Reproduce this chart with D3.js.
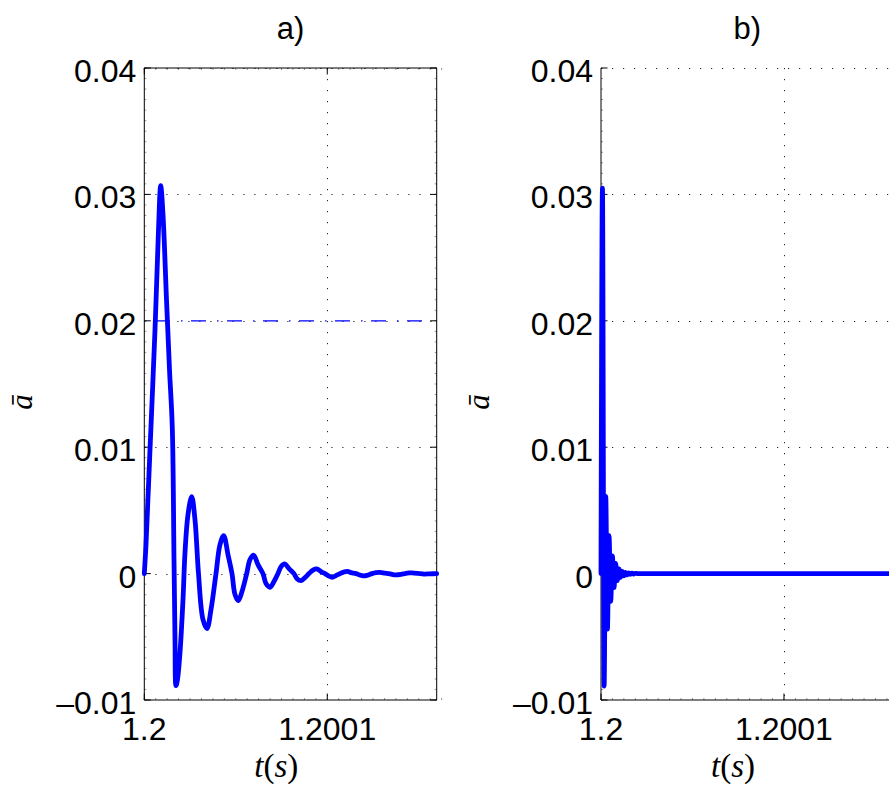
<!DOCTYPE html>
<html><head><meta charset="utf-8">
<script src="https://cdn.jsdelivr.net/npm/d3@7"></script>
<style>body{margin:0;background:#fff} svg{display:block}</style>
</head><body><svg id="c" width="889" height="788"></svg>
<script>
// time offsets from t = 1.2 s, in microseconds
const tA = [0,0.93,3.11,5.85,7.76,8.96,10.22,12.13,13.77,15.30,16.23,16.78,17.32,18.14,19.51,21.15,22.24,23.88,25.90,27.70,29.62,32.08,34.27,36.45,39.18,41.37,43.39,45.74,47.93,49.57,51.37,53.39,55.96,57.76,59.78,62.13,64.86,66.50,68.69,70.87,73.06,74.70,76.72,79.07,81.81,83.44,85.63,87.82,90.00,92.19,94.21,96.56,98.75,100.93,102.73,104.75,106.94,109.13,110.93,112.95,115.69,117.87,119.67,122.24,124.43,126.61,128.80,131.53,133.72,135.90,137.54,140.28,142.46,144.65,146.29,149.57,152.85,156.13,159.78];
const aA = [0,0.00229,0.00981,0.01930,0.02721,0.03070,0.02840,0.02168,0.01614,0.01155,0.00111,-0.00522,-0.00886,-0.00839,-0.00625,-0.00206,0.00166,0.00467,0.00609,0.00427,0,-0.00364,-0.00435,-0.00285,0,0.00229,0.00301,0.00150,0,-0.00166,-0.00214,-0.00142,0,0.00111,0.00145,0.00071,0,-0.00079,-0.00108,-0.00063,0,0.00055,0.00077,0.00040,0,-0.00040,-0.00055,-0.00032,0,0.00028,0.00037,0.00016,0,-0.00020,-0.00029,-0.00016,0,0.00013,0.00018,0.00008,0,-0.00012,-0.00018,-0.00012,0,0.00008,0.00010,0.00004,0,-0.00008,-0.00010,-0.00006,0,0.00005,0.00006,0.00002,-0.00004,-0.00002,0];
const tB = [0,0.8,1.7,2.6,3.5,4.4,5.3,6.2,7.1,8.0,8.9,9.8,10.7,11.6,12.5,13.4,14.3,15.2,16.1,17.0,17.9,18.8,20.0,60,100,160];
const aB = [0,0.0305,-0.0089,0.0061,-0.0044,0.0030,-0.0022,0.0014,-0.0011,0.0008,-0.00055,0.00037,-0.00029,0.00018,-0.00018,0.0001,-0.0001,0.00006,-0.00005,0.00004,-0.00003,0.00002,0,0,0,0];
const xDomain = [0, 159.8];
const xTicks = [0, 100];
const xTickLabels = ["1.2", "1.2001"];
const yDomain = [-0.01, 0.04];
const yTicks = [-0.01, 0, 0.01, 0.02, 0.03, 0.04];
const yTickLabels = ["\u20130.01", "0", "0.01", "0.02", "0.03", "0.04"];
const refLevel = 0.02;
const refSpan = [1.0, 152.3];
const titles = ["a)", "b)"];

const svg = d3.select("#c");
const pTop = 68, pBottom = 700, W = 292.4;
const panels = [
  {left: 144.3, t: tA, a: aA, title: titles[0], box: true, ref: true, curve: d3.curveCatmullRom.alpha(0.5)},
  {left: 601, t: tB, a: aB, title: titles[1], box: false, ref: false, curve: d3.curveMonotoneX}
];
const y = d3.scaleLinear().domain(yDomain).range([pBottom, pTop]);

panels.forEach(p => {
  const x = d3.scaleLinear().domain(xDomain).range([p.left, p.left + W]);
  const g = svg.append("g");
  // grid
  yTicks.filter(v => v > yDomain[0]).forEach(v => {
    g.append("line").attr("x1", p.left).attr("x2", p.left + W)
      .attr("y1", Math.round(y(v)) + 0.5).attr("y2", Math.round(y(v)) + 0.5)
      .attr("stroke", "#222").attr("stroke-width", 1).attr("stroke-dasharray", "1.2,9.8");
  });
  xTicks.filter(v => v > xDomain[0]).forEach(v => {
    g.append("line").attr("x1", Math.round(x(v)) + 0.5).attr("x2", Math.round(x(v)) + 0.5)
      .attr("y1", pTop).attr("y2", pBottom)
      .attr("stroke", "#222").attr("stroke-width", 1).attr("stroke-dasharray", "1.2,9.8");
  });
  // minor ticks
  const yMinor = d3.range(0, 61).map(i => yDomain[0] + i * 0.05 / 60);
  yMinor.forEach(v => {
    g.append("line").attr("x1", p.left).attr("x2", p.left + 2).attr("y1", y(v)).attr("y2", y(v))
      .attr("stroke", "#666").attr("stroke-width", 0.7);
    if (p.box) g.append("line").attr("x1", p.left + W - 2).attr("x2", p.left + W).attr("y1", y(v)).attr("y2", y(v))
      .attr("stroke", "#666").attr("stroke-width", 0.7);
  });
  d3.range(0, 27).map(i => i * 6.25).forEach(v => {
    g.append("line").attr("x1", x(v)).attr("x2", x(v)).attr("y1", pBottom).attr("y2", pBottom - 2)
      .attr("stroke", "#666").attr("stroke-width", 0.7);
    if (p.box) g.append("line").attr("x1", x(v)).attr("x2", x(v)).attr("y1", pTop).attr("y2", pTop + 2)
      .attr("stroke", "#666").attr("stroke-width", 0.7);
  });
  // axes lines
  g.append("line").attr("x1", p.left).attr("x2", p.left).attr("y1", pTop).attr("y2", pBottom).attr("stroke", "#000");
  g.append("line").attr("x1", p.left).attr("x2", p.left + W).attr("y1", pBottom).attr("y2", pBottom).attr("stroke", "#000");
  if (p.box) {
    g.append("line").attr("x1", p.left).attr("x2", p.left + W).attr("y1", pTop).attr("y2", pTop).attr("stroke", "#000");
    g.append("line").attr("x1", p.left + W).attr("x2", p.left + W).attr("y1", pTop).attr("y2", pBottom).attr("stroke", "#000");
  }
  // major ticks
  yTicks.forEach(v => {
    g.append("line").attr("x1", p.left).attr("x2", p.left + 6.5).attr("y1", y(v)).attr("y2", y(v)).attr("stroke", "#000");
    if (p.box) g.append("line").attr("x1", p.left + W - 6.5).attr("x2", p.left + W).attr("y1", y(v)).attr("y2", y(v)).attr("stroke", "#000");
  });
  xTicks.forEach(v => {
    g.append("line").attr("x1", x(v)).attr("x2", x(v)).attr("y1", pBottom).attr("y2", pBottom - 6.5).attr("stroke", "#000");
    if (p.box) g.append("line").attr("x1", x(v)).attr("x2", x(v)).attr("y1", pTop).attr("y2", pTop + 6.5).attr("stroke", "#000");
  });
  // tick labels
  yTicks.forEach((v, i) => {
    g.append("text").attr("x", p.left - 8).attr("y", y(v) + 14)
      .attr("text-anchor", "end").attr("font-family", "Liberation Sans, Arial, sans-serif")
      .attr("font-size", 32).text(yTickLabels[i]);
  });
  xTicks.forEach((v, i) => {
    g.append("text").attr("x", x(v)).attr("y", 740)
      .attr("text-anchor", "middle").attr("font-family", "Liberation Sans, Arial, sans-serif")
      .attr("font-size", 32).text(xTickLabels[i]);
  });
  // title
  g.append("text").attr("x", p.left + W / 2).attr("y", 39).attr("text-anchor", "middle")
    .attr("font-family", "Liberation Sans, Arial, sans-serif").attr("font-size", 31).text(p.title);
  // x label
  const xl = g.append("text").attr("x", p.left + 132).attr("y", 777).attr("text-anchor", "middle")
    .attr("font-family", "Liberation Serif, Times New Roman, serif").attr("font-size", 33);
  xl.append("tspan").attr("font-style", "italic").text("t");
  xl.append("tspan").text("(");
  xl.append("tspan").attr("font-style", "italic").text("s");
  xl.append("tspan").text(")");
  // y label
  g.append("text").attr("transform", `translate(${p.left - 112},402) rotate(-90)`)
    .attr("text-anchor", "middle").attr("font-family", "Liberation Serif, Times New Roman, serif")
    .attr("font-style", "italic").attr("font-size", 31).text("\u0101");
  // reference dash-dot line
  if (p.ref) {
    g.append("line").attr("x1", x(refSpan[0])).attr("x2", x(refSpan[1]))
      .attr("y1", y(refLevel)).attr("y2", y(refLevel))
      .attr("stroke", "#0000ff").attr("stroke-width", 1.2)
      .attr("stroke-dasharray", "15,11,1.5,8.5").attr("stroke-dashoffset", 27.1);
  }
  // data line
  const line = d3.line().x((d, i) => x(p.t[i])).y(d => y(d)).curve(p.curve);
  g.append("path").datum(p.a).attr("d", line).attr("fill", "none")
    .attr("stroke", "#0000ff").attr("stroke-width", 4.8).attr("stroke-linejoin", "round").attr("stroke-linecap", "round");
});
</script></body></html>
